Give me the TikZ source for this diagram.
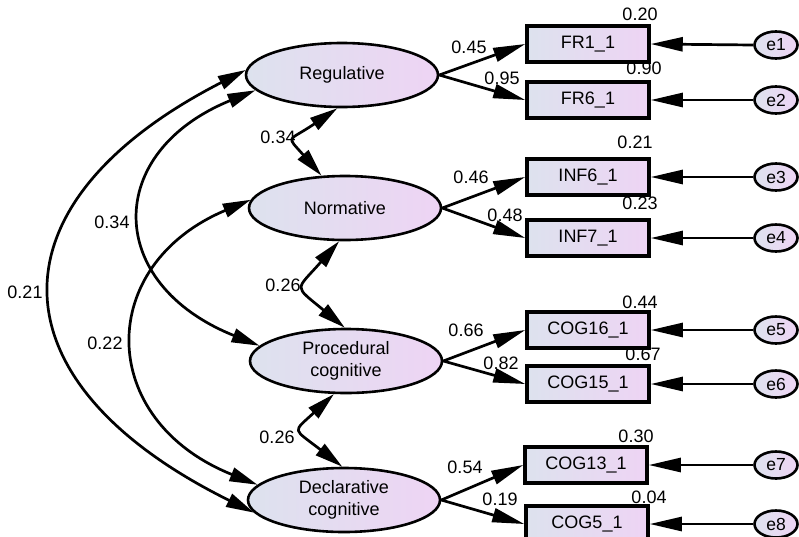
\documentclass[tikz,border=0pt]{standalone}
\usepackage{fontspec}
\setmainfont{Liberation Sans}
\usetikzlibrary{arrows.meta,shapes.geometric}
\definecolor{fillL}{RGB}{221,226,238}
\definecolor{fillR}{RGB}{238,212,244}
\tikzset{
  latent/.style={ellipse, draw, line width=2.6pt, minimum width=192pt, minimum height=64pt, inner sep=0pt,
    left color=fillL, right color=fillR, align=center, font=\fontsize{18}{22}\selectfont},
  obs/.style={rectangle, draw, line width=3.5pt, minimum width=122pt, minimum height=36pt, inner sep=0pt,
    left color=fillL, right color=fillR, font=\fontsize{18}{21}\selectfont},
  err/.style={ellipse, draw, line width=2.6pt, minimum width=43pt, minimum height=27pt, inner sep=0pt,
    left color=fillL, right color=fillR, font=\fontsize{17.5}{20}\selectfont},
  lab/.style={inner sep=0pt, font=\fontsize{18}{21}\selectfont},
  arr/.style={line width=2.7pt, -{Triangle[length=32pt,width=14pt]}},
  darr/.style={line width=2.7pt, {Triangle[length=28pt,width=14pt]}-{Triangle[length=28pt,width=14pt]}},
}
\begin{document}
\begin{tikzpicture}[x=1pt,y=-1pt]
\useasboundingbox (0,0) rectangle (799,536);
\fill[white] (0,0) rectangle (799,536);

% latent variables
\node[latent] (reg) at (342,75) {Regulative};
\node[latent] (norm) at (345,208) {Normative};
\node[latent] (proc) at (346,361) {Procedural\\cognitive};
\node[latent] (decl) at (344,500) {Declarative\\cognitive};

% observed variables
\node[obs] (fr1) at (588,44) {FR1\_1};
\node[obs] (fr6) at (588,100) {FR6\_1};
\node[obs] (inf6) at (588,177) {INF6\_1};
\node[obs] (inf7) at (588,238) {INF7\_1};
\node[obs] (cog16) at (588,330) {COG16\_1};
\node[obs] (cog15) at (588,384) {COG15\_1};
\node[obs] (cog13) at (586,465) {COG13\_1};
\node[obs] (cog5) at (587,524) {COG5\_1};

% errors
\node[err] (e1) at (776,45) {e1};
\node[err] (e2) at (776,100) {e2};
\node[err] (e3) at (776,177) {e3};
\node[err] (e4) at (776,238) {e4};
\node[err] (e5) at (776,330) {e5};
\node[err] (e6) at (776,384) {e6};
\node[err] (e7) at (776,465) {e7};
\node[err] (e8) at (776,524) {e8};

% error arrows
\foreach \e/\b in {e1/fr1,e2/fr6,e3/inf6,e4/inf7,e5/cog16,e6/cog15,e7/cog13,e8/cog5}
  \draw[arr] (\e.west) -- (\b.east);

% loadings
\draw[arr] (reg.east) -- (fr1.west);
\draw[arr] (reg.east) -- (fr6.west);
\draw[arr] (norm.east) -- (inf6.west);
\draw[arr] (norm.east) -- (inf7.west);
\draw[arr] (proc.east) -- (cog16.west);
\draw[arr] (proc.east) -- (cog15.west);
\draw[arr] (decl.east) -- (cog13.west);
\draw[arr] (decl.east) -- (cog5.west);

% covariances
\draw[darr] (reg.262) .. controls +(-50,34) and +(-36,-41) .. (norm.126);
\draw[darr] (norm.260) .. controls +(-44,50) and +(-52,-43) .. (proc.92);
\draw[darr] (proc.250) .. controls +(-42,39) and +(-50,-39) .. (decl.93);
\draw[darr] (reg.177) .. controls +(-258,132) and +(-267,-132) .. (decl.188);
\draw[darr] (reg.190) .. controls +(-152,62) and +(-155,-62) .. (proc.170);
\draw[darr] (norm.175) .. controls +(-155,65) and +(-162,-65) .. (decl.170);

% loading labels
\node[lab] (l1) at (469,47) {0.45};
\node[lab] (l2) at (502,78) {0.95};
\node[lab] (l3) at (471,177) {0.46};
\node[lab] (l4) at (505,215) {0.48};
\node[lab] (l5) at (466,330) {0.66};
\node[lab] (l6) at (501,363) {0.82};
\node[lab] (l7) at (465,467) {0.54};
\node[lab] (l8) at (500,499) {0.19};

% R-squared labels
\node[lab] (r1) at (640,14) {0.20};
\node[lab] (r2) at (644,68) {0.90};
\node[lab] (r3) at (635,142) {0.21};
\node[lab] (r4) at (640,203) {0.23};
\node[lab] (r5) at (640,302) {0.44};
\node[lab] (r6) at (643,354) {0.67};
\node[lab] (r7) at (636,436) {0.30};
\node[lab] (r8) at (649,497) {0.04};

% covariance labels
\node[lab] (c1) at (278,137) {0.34};
\node[lab] (c2) at (283,285) {0.26};
\node[lab] (c3) at (277,437) {0.26};
\node[lab] (c4) at (112,222) {0.34};
\node[lab] (c5) at (105,343) {0.22};
\node[lab] (c6) at (25,292) {0.21};
\end{tikzpicture}
\end{document}
